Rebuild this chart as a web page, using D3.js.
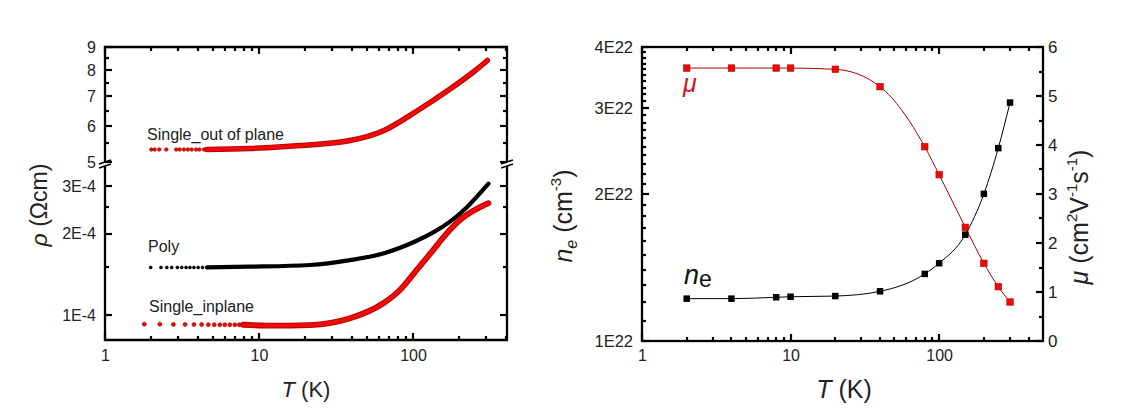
<!DOCTYPE html>
<html>
<head>
<meta charset="utf-8">
<script src="https://cdn.jsdelivr.net/npm/d3@7"></script>
</head>
<body style="margin:0;background:#fff">
<div id="chart-area"></div>
<script>
// ---- data ----
// left panel: resistivity vs T (sparse low-T markers + dense curve)
var outLowT   = [2.0, 2.1, 2.25, 2.5, 2.9, 3.05, 3.25, 3.45, 3.65, 3.9, 4.1, 4.4, 4.6];
var outLowRho = [5.33, 5.33, 5.33, 5.33, 5.33, 5.33, 5.33, 5.33, 5.33, 5.33, 5.33, 5.33, 5.33];
var outT      = [4.6, 8.7, 18.5, 39, 63.8, 106, 174, 249, 304];
var outRho    = [5.33, 5.36, 5.44, 5.58, 5.86, 6.49, 7.26, 7.94, 8.40];

var polyLowT   = [1.98, 2.31, 2.52, 2.71, 2.95, 3.15, 3.36, 3.56, 3.78, 4.03, 4.3, 4.6];
var polyLowRho = [1.5e-4, 1.5e-4, 1.5e-4, 1.5e-4, 1.5e-4, 1.5e-4, 1.5e-4, 1.5e-4, 1.5e-4, 1.5e-4, 1.5e-4, 1.5e-4];
var polyT      = [4.6, 8.74, 21.4, 39, 64.1, 105.7, 135.4, 174, 223, 309];
var polyRho    = [1.5e-4, 1.509e-4, 1.531e-4, 1.596e-4, 1.69e-4, 1.883e-4, 2.021e-4, 2.216e-4, 2.501e-4, 3.062e-4];

var inLowT   = [1.8, 2.27, 2.78, 3.31, 3.78, 4.24, 4.69, 5.12, 5.57, 6.0, 6.47, 6.97, 7.45, 7.9];
var inLowRho = [0.924e-4, 0.924e-4, 0.923e-4, 0.923e-4, 0.922e-4, 0.922e-4, 0.921e-4, 0.921e-4, 0.92e-4, 0.92e-4, 0.92e-4, 0.92e-4, 0.92e-4, 0.92e-4];
var inT      = [7.9, 12, 21.4, 39, 64.1, 82.3, 105.7, 135.4, 153.5, 174, 197.4, 223, 263.6, 309];
var inRho    = [0.92e-4, 0.913e-4, 0.918e-4, 0.972e-4, 1.105e-4, 1.238e-4, 1.468e-4, 1.741e-4, 1.904e-4, 2.068e-4, 2.22e-4, 2.346e-4, 2.48e-4, 2.593e-4];

// right panel: Hall data
var hallT = [2, 4, 8, 10, 20, 40, 80, 100, 150, 200, 250, 300];
var ne    = [1.221e22, 1.221e22, 1.229e22, 1.232e22, 1.236e22, 1.264e22, 1.372e22, 1.443e22, 1.651e22, 2.001e22, 2.483e22, 3.078e22];
var mu    = [5.57, 5.57, 5.57, 5.57, 5.545, 5.19, 3.965, 3.394, 2.32, 1.586, 1.108, 0.796];

// ticks
var xMajor = [1, 10, 100];
var xMinor = [2, 3, 4, 5, 6, 7, 8, 9, 20, 30, 40, 50, 60, 70, 80, 90, 200, 300, 400];
var upMajor = [5, 6, 7, 8, 9];
var upMinor = [5.5, 6.5, 7.5, 8.5];
var lowMajor = [1e-4, 2e-4, 3e-4];
var lowMinor = [1.5e-4, 2.5e-4];
var neMajor = [1e22, 2e22, 3e22, 4e22];
var neMinor = [1.1e22, 1.2e22, 1.3e22, 1.4e22, 1.5e22, 1.6e22, 1.7e22, 1.8e22, 1.9e22,
               2.1e22, 2.2e22, 2.3e22, 2.4e22, 2.5e22, 2.6e22, 2.7e22, 2.8e22, 2.9e22,
               3.1e22, 3.2e22, 3.3e22, 3.4e22, 3.5e22, 3.6e22, 3.7e22, 3.8e22, 3.9e22];
var muMajor = [0, 1, 2, 3, 4, 5, 6];
var muMinor = [0.5, 1.5, 2.5, 3.5, 4.5, 5.5];

var FONT = "'Liberation Sans', Arial, sans-serif";

var svg = d3.select('#chart-area').append('svg')
    .attr('width', 1128)
    .attr('height', 413)
    .attr('font-family', FONT);

// labels only from d3.axis
function labels(sel, size) {
    sel.attr('font-family', FONT);
    sel.select('.domain').remove();
    sel.selectAll('.tick line').remove();
    sel.selectAll('.tick text').attr('font-size', size + 'px').attr('fill', '#222');
}
// inward tick marks: one entry per tick, positions from the scale
var tickList = [];
function addTicks(scale, values, side, pos, len) {
    values.forEach(function(d) {
        tickList.push({ v: scale(d), side: side, pos: pos, len: len });
    });
}

// ---------------- LEFT PANEL ----------------
var lx0 = 105, lx1 = 507, lTop = 47, lBot = 340, brkTop = 162, brkBot = 166;

var xL = d3.scaleLog().domain([1, 400]).range([lx0, lx0 + 154 * Math.log10(400)]);
var yUp = d3.scaleLog().domain([5, 9]).range([brkTop, lTop]);
var yLow = d3.scaleLog().domain([0.808e-4, 3.56e-4]).range([lBot, brkBot]);

var gL = svg.append('g');

gL.append('g').attr('transform', 'translate(0,' + lBot + ')')
    .call(d3.axisBottom(xL).tickValues(xMajor).tickSize(0).tickPadding(10).tickFormat(d3.format('d')))
    .call(labels, 16);
gL.append('g').attr('transform', 'translate(' + lx0 + ',0)')
    .call(d3.axisLeft(yUp).tickValues(upMajor).tickSize(0).tickPadding(9).tickFormat(d3.format('d')))
    .call(labels, 16);
gL.append('g').attr('transform', 'translate(' + lx0 + ',0)')
    .call(d3.axisLeft(yLow).tickValues(lowMajor).tickSize(0).tickPadding(9)
        .tickFormat(function(d){ return Math.round(d * 1e4) + 'E-4'; }))
    .call(labels, 16);

addTicks(xL, xMajor, 'bottom', lBot, 7); addTicks(xL, xMinor, 'bottom', lBot, 4);
addTicks(xL, xMajor, 'top', lTop, 7);    addTicks(xL, xMinor, 'top', lTop, 4);
addTicks(yUp, upMajor, 'left', lx0, 7);  addTicks(yUp, upMinor, 'left', lx0, 4);
addTicks(yUp, upMajor, 'right', lx1, 7); addTicks(yUp, upMinor, 'right', lx1, 4);
addTicks(yLow, lowMajor, 'left', lx0, 7);  addTicks(yLow, lowMinor, 'left', lx0, 4);
addTicks(yLow, lowMajor, 'right', lx1, 7); addTicks(yLow, lowMinor, 'right', lx1, 4);

// frame with broken vertical sides
gL.append('path')
    .attr('d',
        'M' + lx0 + ',' + brkTop + 'V' + lTop + 'H' + lx1 + 'V' + brkTop +
        'M' + lx0 + ',' + brkBot + 'V' + lBot + 'H' + lx1 + 'V' + brkBot)
    .attr('fill', 'none').attr('stroke', '#000').attr('stroke-width', 2.3);
gL.append('path')
    .attr('d', [lx0, lx1].map(function(xx) {
        return 'M' + (xx - 6) + ',' + (brkTop + 2) + 'L' + (xx + 6) + ',' + (brkTop - 2) +
               'M' + (xx - 6) + ',' + (brkBot + 2) + 'L' + (xx + 6) + ',' + (brkBot - 2);
    }).join(''))
    .attr('fill', 'none').attr('stroke', '#000').attr('stroke-width', 1.6);

// curves
function thick(g, T, V, y, outer, inner, w) {
    var line = d3.line().x(function(d){ return xL(d[0]); }).y(function(d){ return y(d[1]); })
        .curve(d3.curveMonotoneX);
    var pts = d3.zip(T, V);
    g.append('path').attr('d', line(pts)).attr('fill', 'none')
        .attr('stroke', outer).attr('stroke-width', w).attr('stroke-linecap', 'round');
    if (inner) {
        g.append('path').attr('d', line(pts)).attr('fill', 'none')
            .attr('stroke', inner).attr('stroke-width', w - 2.2).attr('stroke-linecap', 'round');
    }
}
function dots(g, T, V, y, fill, stroke, r) {
    g.selectAll(null).data(d3.zip(T, V)).enter().append('circle')
        .attr('cx', function(d){ return xL(d[0]); })
        .attr('cy', function(d){ return y(d[1]); })
        .attr('r', r)
        .attr('fill', fill)
        .attr('stroke', stroke)
        .attr('stroke-width', 0.6);
}

var curves = gL.append('g');
dots(curves, outLowT, outLowRho, yUp, '#f00a0a', '#900', 1.8);
thick(curves, outT, outRho, yUp, '#c00000', '#f00a0a', 5.5);
dots(curves, polyLowT, polyLowRho, yLow, '#000', '#000', 1.5);
thick(curves, polyT, polyRho, yLow, '#000', null, 4.2);
dots(curves, inLowT, inLowRho, yLow, '#f00a0a', '#900', 2);
thick(curves, inT, inRho, yLow, '#c00000', '#f00a0a', 5.8);

// annotations
gL.append('text').attr('x', 147).attr('y', 140).attr('font-size', '16px').attr('fill', '#222').text('Single_out of plane');
gL.append('text').attr('x', 148).attr('y', 252).attr('font-size', '16px').attr('fill', '#222').text('Poly');
gL.append('text').attr('x', 149).attr('y', 312).attr('font-size', '16px').attr('fill', '#222').text('Single_inplane');

// axis titles
var xtL = gL.append('text').attr('x', 306).attr('y', 397).attr('text-anchor', 'middle')
    .attr('font-size', '22px').attr('fill', '#222');
xtL.append('tspan').attr('font-style', 'italic').text('T');
xtL.append('tspan').text(' (K)');

var ytL = gL.append('text').attr('transform', 'translate(47,205) rotate(-90)').attr('text-anchor', 'middle')
    .attr('font-size', '23px').attr('fill', '#222');
ytL.append('tspan').attr('font-style', 'italic').text('\u03c1');
ytL.append('tspan').text(' (\u03a9cm)');

// ---------------- RIGHT PANEL ----------------
var rx0 = 642, rx1 = 1043, rTop = 47, rBot = 341;
var xR = d3.scaleLog().domain([1, 500]).range([rx0, rx1]);
var yN = d3.scaleLog().domain([1e22, 4e22]).range([rBot, rTop]);
var yM = d3.scaleLinear().domain([0, 6]).range([rBot, rTop]);

var gR = svg.append('g');

gR.append('g').attr('transform', 'translate(0,' + rBot + ')')
    .call(d3.axisBottom(xR).tickValues(xMajor).tickSize(0).tickPadding(9).tickFormat(d3.format('d')))
    .call(labels, 16);
gR.append('g').attr('transform', 'translate(' + rx0 + ',0)')
    .call(d3.axisLeft(yN).tickValues(neMajor).tickSize(0).tickPadding(9)
        .tickFormat(function(d){ return Math.round(d / 1e22) + 'E22'; }))
    .call(labels, 16.5);
gR.append('g').attr('transform', 'translate(' + rx1 + ',0)')
    .call(d3.axisRight(yM).tickValues(muMajor).tickSize(0).tickPadding(5).tickFormat(d3.format('d')))
    .call(labels, 17);

addTicks(xR, xMajor, 'bottom', rBot, 7); addTicks(xR, xMinor, 'bottom', rBot, 4);
addTicks(xR, xMajor, 'top', rTop, 7);    addTicks(xR, xMinor, 'top', rTop, 4);
addTicks(yN, neMajor, 'left', rx0, 7);   addTicks(yN, neMinor, 'left', rx0, 4);
addTicks(yM, muMajor, 'right', rx1, 7);  addTicks(yM, muMinor, 'right', rx1, 4);

gR.append('rect').attr('x', rx0).attr('y', rTop).attr('width', rx1 - rx0).attr('height', rBot - rTop)
    .attr('fill', 'none').attr('stroke', '#000').attr('stroke-width', 2.3);

var neLine = d3.line().x(function(d){ return xR(d[0]); }).y(function(d){ return yN(d[1]); }).curve(d3.curveMonotoneX);
var muLine = d3.line().x(function(d){ return xR(d[0]); }).y(function(d){ return yM(d[1]); }).curve(d3.curveMonotoneX);

gR.append('path').attr('d', neLine(d3.zip(hallT, ne))).attr('fill', 'none').attr('stroke', '#000').attr('stroke-width', 1);
gR.append('path').attr('d', muLine(d3.zip(hallT, mu))).attr('fill', 'none').attr('stroke', '#b00000').attr('stroke-width', 1);

var sq = 6.5;
gR.append('g').selectAll('rect').data(d3.zip(hallT, ne)).enter().append('rect')
    .attr('x', function(d){ return xR(d[0]) - sq / 2; })
    .attr('y', function(d){ return yN(d[1]) - sq / 2; })
    .attr('width', sq).attr('height', sq).attr('fill', '#000');
gR.append('g').selectAll('rect').data(d3.zip(hallT, mu)).enter().append('rect')
    .attr('x', function(d){ return xR(d[0]) - sq / 2; })
    .attr('y', function(d){ return yM(d[1]) - sq / 2; })
    .attr('width', sq).attr('height', sq).attr('fill', '#ee0a0a').attr('stroke', '#b00000').attr('stroke-width', 0.6);

// in-plot labels
gR.append('text').attr('x', 683).attr('y', 92).attr('font-size', '25px').attr('font-style', 'italic')
    .attr('fill', '#d01515').text('\u03bc');
var neLab = gR.append('text').attr('x', 684).attr('y', 284).attr('fill', '#111');
neLab.append('tspan').attr('font-size', '27px').attr('font-style', 'italic').text('n');
neLab.append('tspan').attr('font-size', '23px').attr('dy', 3).text('e');

// axis titles
var xtR = gR.append('text').attr('x', 844).attr('y', 398).attr('text-anchor', 'middle')
    .attr('font-size', '25px').attr('fill', '#222');
xtR.append('tspan').attr('font-style', 'italic').text('T');
xtR.append('tspan').text(' (K)');

var ytN = gR.append('text').attr('transform', 'translate(572,216) rotate(-90)').attr('text-anchor', 'middle')
    .attr('font-size', '25px').attr('fill', '#222');
ytN.append('tspan').attr('font-style', 'italic').text('n');
ytN.append('tspan').attr('font-style', 'italic').attr('font-size', '16px').attr('dy', 5).text('e');
ytN.append('tspan').attr('dy', -5).text(' (cm');
ytN.append('tspan').attr('font-size', '15px').attr('dy', -11).text('-3');
ytN.append('tspan').attr('dy', 11).text(')');

var ytM = gR.append('text').attr('transform', 'translate(1088,217) rotate(-90)').attr('text-anchor', 'middle')
    .attr('font-size', '25px').attr('fill', '#222');
ytM.append('tspan').attr('font-style', 'italic').text('\u03bc');
ytM.append('tspan').text(' (cm');
ytM.append('tspan').attr('font-size', '15px').attr('dy', -11).text('2');
ytM.append('tspan').attr('dy', 11).text('V');
ytM.append('tspan').attr('font-size', '15px').attr('dy', -11).text('-1');
ytM.append('tspan').attr('dy', 11).text('s');
ytM.append('tspan').attr('font-size', '15px').attr('dy', -11).text('-1');
ytM.append('tspan').attr('dy', 11).text(')');

// tick marks last, on top of everything, as small filled rects
var tw = 2.2;
svg.append('g').selectAll('rect').data(tickList).enter().append('rect')
    .attr('x', function(t) {
        if (t.side === 'bottom' || t.side === 'top') return Math.round(t.v) - tw / 2;
        return t.side === 'left' ? t.pos : t.pos - t.len;
    })
    .attr('y', function(t) {
        if (t.side === 'left' || t.side === 'right') return Math.round(t.v) - tw / 2;
        return t.side === 'top' ? t.pos : t.pos - t.len;
    })
    .attr('width', function(t) { return (t.side === 'bottom' || t.side === 'top') ? tw : t.len; })
    .attr('height', function(t) { return (t.side === 'bottom' || t.side === 'top') ? t.len : tw; })
    .attr('fill', '#000');
</script>
</body>
</html>
